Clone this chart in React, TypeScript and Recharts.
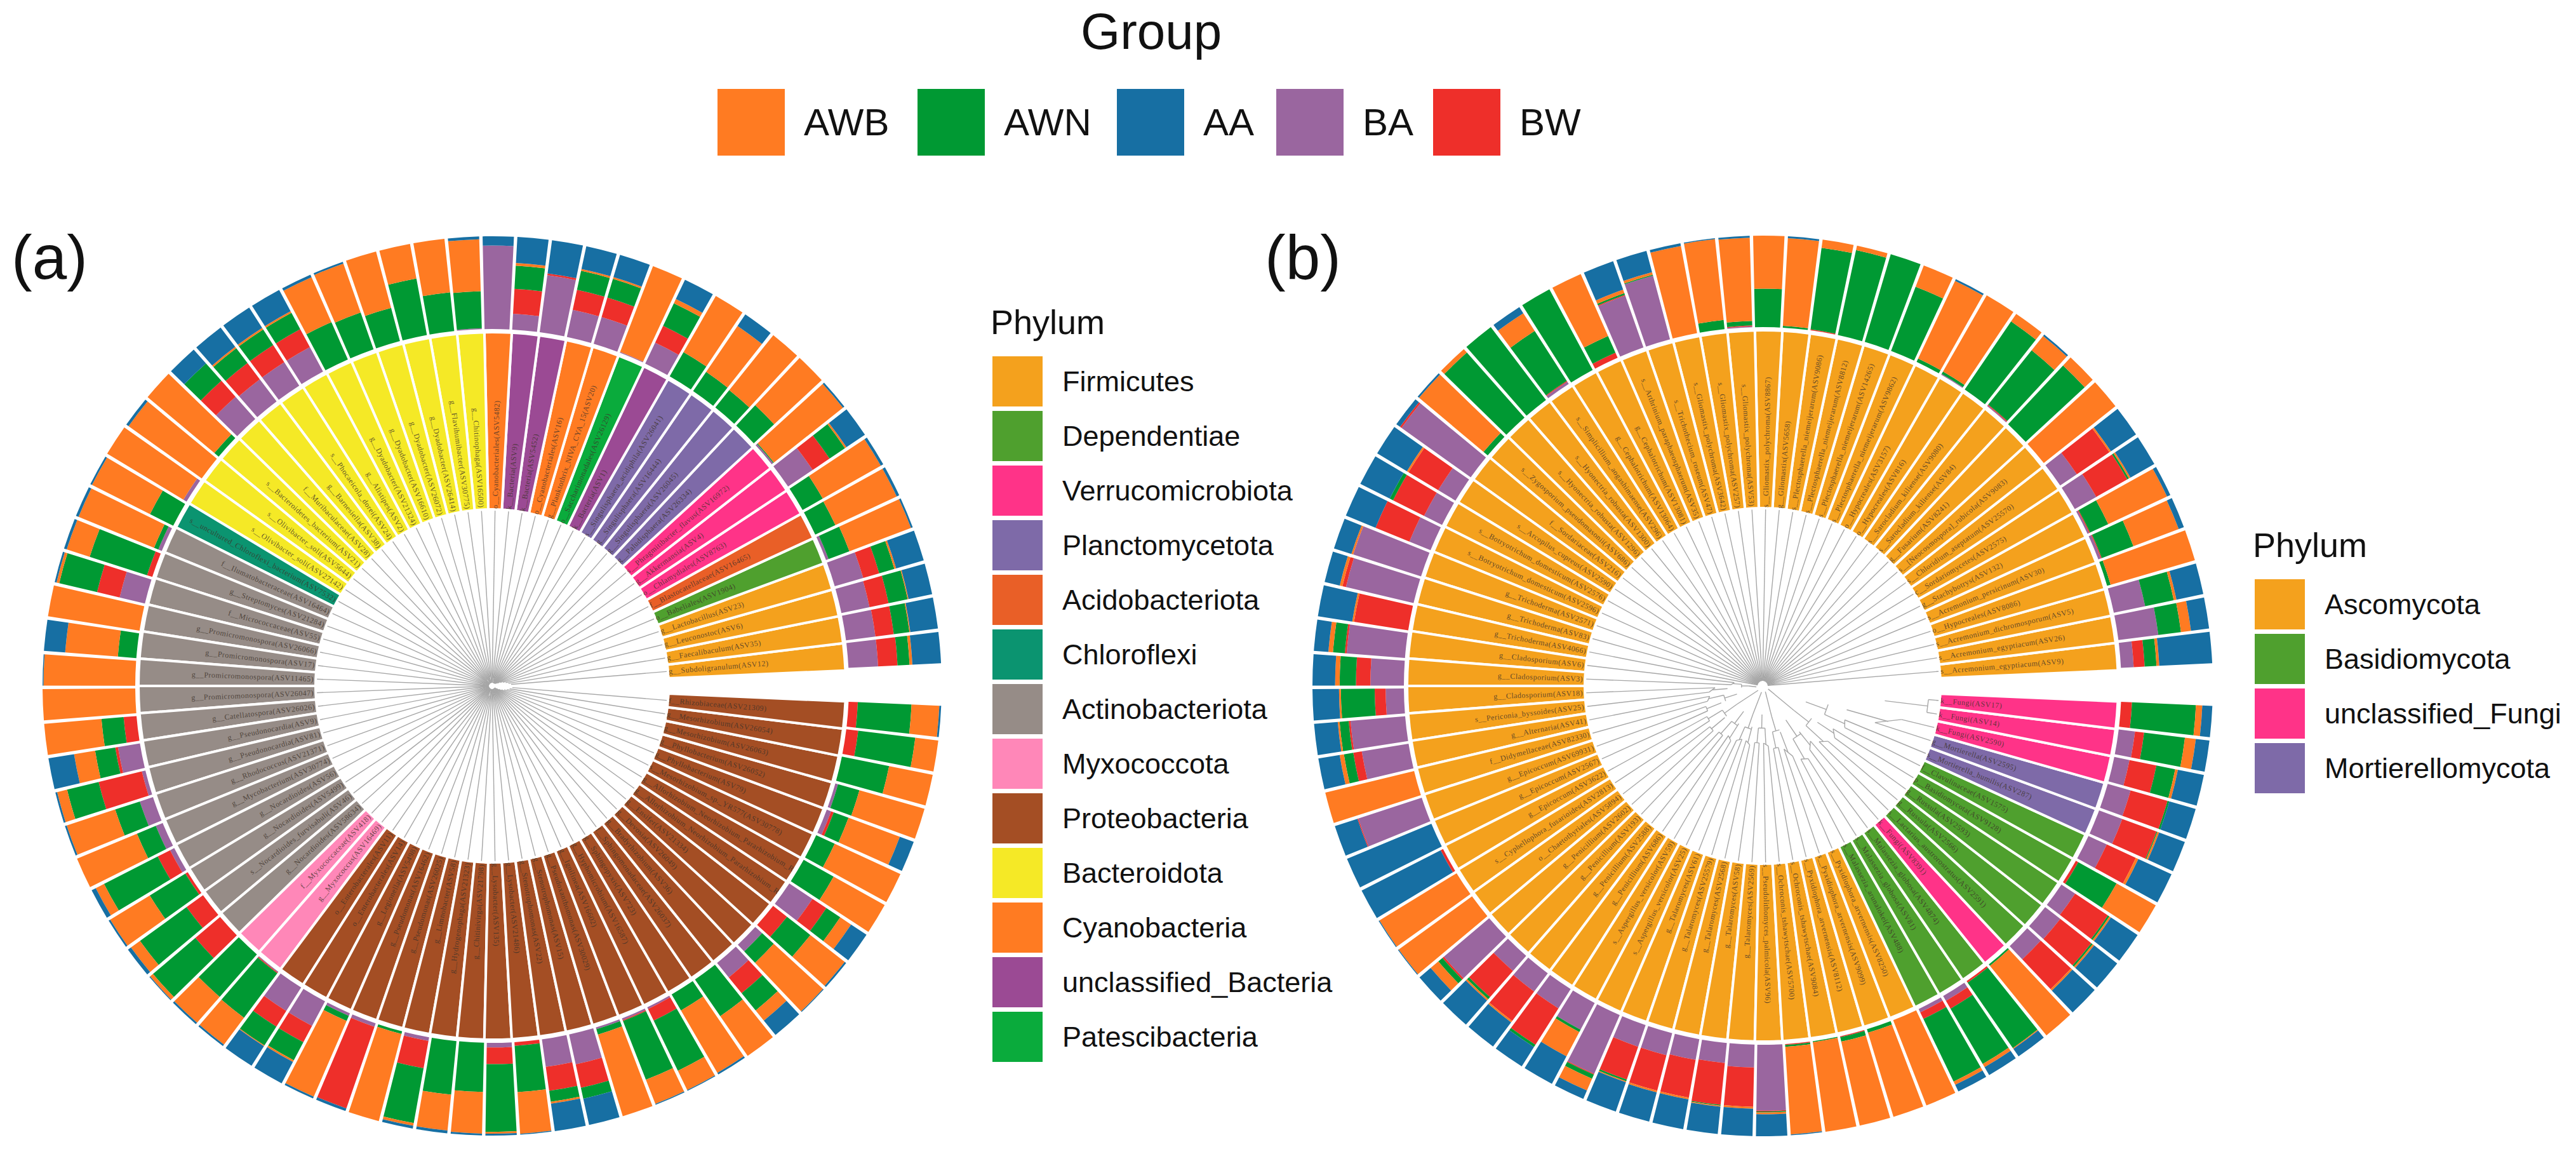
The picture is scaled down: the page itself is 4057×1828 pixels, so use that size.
import React from 'react';
import {
  Pie,
  PieChart,
  PolarAngleAxis,
  PolarRadiusAxis,
  RadialBar,
  RadialBarChart
} from 'recharts';

const groupColors: Record<string, string> = {
  AWB: '#FF7B22',
  AWN: '#009933',
  AA: '#176FA3',
  BA: '#9A669F',
  BW: '#EE2F2A'
};
const groupNames = ['AWB', 'AWN', 'AA', 'BA', 'BW'];
// drawn from the inner edge of the ring to the outer one
const stackOrder = ['BA', 'BW', 'AWN', 'AWB', 'AA'];

const bacteriaPhyla = [
  'Firmicutes',
  'Dependentiae',
  'Verrucomicrobiota',
  'Planctomycetota',
  'Acidobacteriota',
  'Chloroflexi',
  'Actinobacteriota',
  'Myxococcota',
  'Proteobacteria',
  'Bacteroidota',
  'Cyanobacteria',
  'unclassified_Bacteria',
  'Patescibacteria'
];
const fungiPhyla = ['Ascomycota', 'Basidiomycota', 'unclassified_Fungi', 'Mortierellomycota'];

const phylumColors: Record<string, string> = {
  Firmicutes: '#F4A11D',
  Dependentiae: '#4FA02E',
  Verrucomicrobiota: '#FF3388',
  Planctomycetota: '#7E6AA8',
  Acidobacteriota: '#E95F27',
  Chloroflexi: '#0B9470',
  Actinobacteriota: '#968C87',
  Myxococcota: '#FF87B8',
  Proteobacteria: '#A44E24',
  Bacteroidota: '#F5E926',
  Cyanobacteria: '#FF7B22',
  unclassified_Bacteria: '#9B4A94',
  Patescibacteria: '#0AAB3C',
  Ascomycota: '#F4A11D',
  Basidiomycota: '#4FA02E',
  unclassified_Fungi: '#FF3388',
  Mortierellomycota: '#7E6AA8'
};

// leaves run counter-clockwise from the gap at 3 o'clock
const leavesA = [
  'g__Subdoligranulum(ASV12)', 'g__Faecalibaculum(ASV35)', 'g__Leuconostoc(ASV6)', 'g__Lactobacillus(ASV23)',
  'o__Babeliales(ASV1904)', 'f__Blastocatellaceae(ASV16465)', 'o__Chlamydiales(ASV8763)', 'g__Akkermansia(ASV4)',
  's__Phragmitibacter_flavus(ASV16972)', 'g__Paludisphaera(ASV26334)', 'g__Singulisphaera(ASV26045)', 'g__Singulisphaera(ASV16444)',
  's__Singulisphaera_acidiphila(ASV26041)', 'k__Bacteria(ASV1)', 'o__Saccharimonadales(ASV26129)', 'g__Planktothrix_NIVA_CYA_15(ASV20)',
  'o__Cyanobacteriales(ASV16)', 'k__Bacteria(ASV5452)', 'k__Bacteria(ASV9)', 'o__Cyanobacteriales(ASV5482)',
  'g__Chitinophaga(ASV16500)', 'g__Flavihumibacter(ASV30775)', 'g__Dyadobacter(ASV26414)', 'g__Dyadobacter(ASV26072)',
  'g__Dyadobacter(ASV16610)', 'g__Dyadobacter(ASV21324)', 'g__Alistipes(ASV2)', 's__Phocaeicola_dorei(ASV24)',
  'g__Barnesiella(ASV38)', 'f__Muribaculaceae(ASV28)', 's__Bacteroidetes_bacterium(ASV21)', 's__Olivibacter_soli(ASV5644)',
  's__Olivibacter_soli(ASV27142)', 's__uncultured_Chloroflexi_bacterium(ASV7532)', 'f__Ilumatobacteraceae(ASV16464)', 'g__Streptomyces(ASV21284)',
  'f__Micrococcaceae(ASV55)', 'g__Promicromonospora(ASV26066)', 'g__Promicromonospora(ASV17)', 'g__Promicromonospora(ASV11465)',
  'g__Promicromonospora(ASV26047)', 'g__Catellatospora(ASV26026)', 'g__Pseudonocardia(ASV9)', 'g__Pseudonocardia(ASV81)',
  'g__Rhodococcus(ASV21371)', 'g__Mycobacterium(ASV30774)', 'g__Nocardioides(ASV56)', 'g__Nocardioides(ASV5499)',
  's__Nocardioides_furvisabuli(ASV46)', 'g__Nocardioides(ASV58634)', 'f__Myxococcaceae(ASV418)', 'g__Myxococcus(ASV16469)',
  'o__Enterobacterales(ASV11)', 'o__Enterobacterales(ASV14)', 'g__Legionella(ASV5498)', 'g__Pseudomonas(ASV16462)',
  'g__Pseudomonas(ASV26025)', 'g__Limnobacter(ASV58)', 'g__Hydrogenophaga(ASV21323)', 'g__Chitinivirga(ASV21798)',
  'g__Lysobacter(ASV135)', 'g__Lysobacter(ASV21486)', 'g__Stenotrophomonas(ASV22)', 'g__Stenotrophomonas(ASV15)',
  'g__Pseudoxanthomonas(ASV30029)', 'g__Ignilinea(ASV16602)', 'g__Hyphomicrobium(ASV16587)', 'g__Sphingopyxis(ASV723)',
  'f__Sphingomonadaceae(ASV26037)', 'g__Bradyrhizobium(ASV36)', 'g__Devosia(ASV26049)', 'g__Ensifer(ASV21334)',
  'g__Allorhizobium_Neorhizobium_Pararhizobium_R', 'g__Allorhizobium_Neorhizobium_Pararhizobium_R', 's__Mesorhizobium_sp._YR577(ASV30778)', 'g__Phyllobacterium(ASV79)',
  'g__Phyllobacterium(ASV26052)', 'g__Mesorhizobium(ASV26063)', 'g__Mesorhizobium(ASV26054)', 'f__Rhizobiaceae(ASV21309)'
];
const phylumRunsA: [string, number][] = [
  ['Firmicutes', 4], ['Dependentiae', 1], ['Acidobacteriota', 1], ['Verrucomicrobiota', 3], ['Planctomycetota', 4],
  ['unclassified_Bacteria', 1], ['Patescibacteria', 1], ['Cyanobacteria', 2], ['unclassified_Bacteria', 2], ['Cyanobacteria', 1],
  ['Bacteroidota', 13], ['Chloroflexi', 1], ['Actinobacteriota', 16], ['Myxococcota', 2], ['Proteobacteria', 28]
];
const baA = [32,32,31,32,3,0,0,32,2,0, 0,0,0,25,1,30,30,62,17,90, 1,0,0,0,0,0,30,30,30,32, 0,0,4,0,4,0,28,0,0,0, 0,0,24,4,15,8,5,0,0,0, 0,1,30,30,3,4,0,4,0,0, 5,0,30,33,2,2,2,0,0,20, 10,0,30,0,0,5,3,0,0,0];
const bwA = [21,20,21,18,0,0,0,22,0,0, 0,0,0,20,0,22,22,2,27,0, 0,0,0,0,0,0,22,22,22,23, 0,0,0,0,0,6,25,0,0,0, 0,14,3,48,0,0,15,3,22,35, 0,1,20,20,0,93,0,30,0,0, 18,4,26,26,0,1,14,0,0,22, 0,19,18,0,0,3,0,0,13,10];
const awnA = [13,17,21,17,24,24,25,20,1,30, 24,25,30,27,0,21,21,0,25,0, 40,42,62,37,42,44,20,20,20,25, 6,0,0,28,5,65,42,0,20,0, 0,24,22,35,28,22,65,45,62,60, 61,60,24,22,6,0,3,60,58,53, 73,50,12,12,6,68,60,20,48,24, 17,32,18,37,22,17,24,52,62,58];
const awbA = [3,1,1,2,71,73,72,2,95,70, 76,60,70,5,99,2,2,0,3,0, 56,58,38,63,56,53,2,2,2,0, 94,97,96,70,88,26,3,100,57,99, 100,62,23,11,55,70,10,50,12,4, 37,36,1,2,89,0,97,3,39,45, 2,45,2,0,92,28,23,78,52,14, 72,47,14,63,78,59,73,48,25,30];
const aaA = [31,30,26,31,2,3,3,24,2,0, 0,15,0,23,0,25,25,36,28,10, 3,0,0,0,2,3,26,26,26,20, 0,3,0,2,3,3,2,0,23,1, 0,0,28,2,2,0,5,2,4,1, 2,2,25,26,2,3,0,3,3,2, 2,1,30,29,0,1,1,2,0,20, 1,2,20,0,0,16,0,0,0,2];
// where each leaf line leaves the tree, in px from the centre
const treeA = [
  30,26,22,18,14,10,8,6,6,6, 5,5,5,5,5,5,8,12,6,5, 5,5,14,5,5,5,5,5,12,5, 5,5,5,5,5,5,5,5,8,5,
  5,5,5,5,5,5,5,5,5,5, 5,5,5,5,5,5,16,5,5,5, 5,5,5,5,5,5,8,5,5,5, 5,5,5,8,12,16,20,24,28,32
];

const leavesB = [
  's__Acremonium_egyptiacum(ASV9)', 's__Acremonium_egyptiacum(ASV26)', 's__Acremonium_dichromosporum(ASV5)', 'o__Hypocreales(ASV8086)',
  's__Acremonium_persicinum(ASV30)', 'g__Stachybotrys(ASV132)', 'c__Sordariomycetes(ASV2575)', 's__Chloridium_aseptatum(ASV25570)',
  's__[Neocosmospora]_rubicola(ASV9083)', 'g__Fusarium(ASV8241)', 's__Sarocladium_kiliense(ASV84)', 's__Sarocladium_kiliense(ASV9080)',
  'o__Hypocreales(ASV816)', 'o__Hypocreales(ASV3157)', 's__Plectosphaerella_niemeijerarum(ASV9862)', 's__Plectosphaerella_niemeijerarum(ASV14265)',
  's__Plectosphaerella_niemeijerarum(ASV8812)', 's__Plectosphaerella_niemeijerarum(ASV9086)', 'g__Gliomastix(ASV5658)', 's__Gliomastix_polychroma(ASV8867)',
  's__Gliomastix_polychroma(ASV53)', 's__Gliomastix_polychroma(ASV257)', 's__Gliomastix_polychroma(ASV3642)', 's__Trichothecium_roseum(ASV47)',
  's__Arthrinium_paraphaeosphaerum(ASV35)', 'g__Cephalotrichum(ASV13081)', 'g__Cephalotrichum(ASV13064)', 's__Simplicillium_aogashimaense(ASV296)',
  's__Hyonectria_robusta(ASV1300)', 's__Hyonectria_robusta(ASV1296)', 's__Zygosporium_pseudomasonii(ASV686)', 'f__Sordariaceae(ASV216)',
  's__Arcopilus_cupreus(ASV2590)', 's__Botryotrichum_domesticum(ASV2576)', 's__Botryotrichum_domesticum(ASV2596)', 'g__Trichoderma(ASV2571)',
  'g__Trichoderma(ASV83)', 'g__Trichoderma(ASV4066)', 'g__Cladosporium(ASV6)', 'g__Cladosporium(ASV3)',
  'g__Cladosporium(ASV18)', 's__Periconia_byssoides(ASV25)', 'g__Alternaria(ASV41)', 'f__Didymellaceae(ASV82330)',
  'g__Epicoccum(ASV69931)', 'g__Epicoccum(ASV2567)', 'g__Epicoccum(ASV3622)', 's__Cyphellophora_fusarioides(ASV2813)',
  'o__Chaetothyriales(ASV5894)', 'g__Penicillium(ASV2602)', 'g__Penicillium(ASV193)', 'g__Penicillium(ASV2588)',
  'g__Penicillium(ASV686)', 's__Aspergillus_versicolor(ASV59)', 's__Aspergillus_versicolor(ASV25)', 'g__Talaromyces(ASV61)',
  'g__Talaromyces(ASV25579)', 'g__Talaromyces(ASV2568)', 'g__Talaromyces(ASV58)', 'g__Talaromyces(ASV2569)',
  's__Pseudolithomyces_palmicola(ASV96)', 's__Ochroconis_tshawytschae(ASV5700)', 's__Ochroconis_tshawytschae(ASV9084)', 's__Pyxidiophora_arvernensis(ASV8112)',
  's__Pyxidiophora_arvernensis(ASV9099)', 's__Pyxidiophora_arvernensis(ASV8250)', 's__Malassezia_arunalokei(ASV488)', 's__Malassezia_globosa(ASV81)',
  's__Malassezia_globosa(ASV4874)', 'k__Fungi(ASV8391)', 's__Lactarius_austrorostratus(ASV2591)', 'g__Russula(ASV2566)',
  'g__Russula(ASV2593)', 'p__Basidiomycota(ASV9128)', 'f__Clavulinaceae(ASV1575)', 's__Mortierella_humilis(ASV287)',
  'g__Mortierella(ASV2595)', 'k__Fungi(ASV2590)', 'k__Fungi(ASV14)', 'k__Fungi(ASV17)'
];
const phylumRunsB: [string, number][] = [
  ['Ascomycota', 66], ['Basidiomycota', 3], ['unclassified_Fungi', 1], ['Basidiomycota', 5], ['Mortierellomycota', 2], ['unclassified_Fungi', 3]
];
const baB = [14,44,35,0,3,2,27,22,0,0, 1,0,1,0,0,0,0,0,0,0, 1,0,0,72,60,0,0,3,0,0, 0,93,22,22,25,78,76,0,64,37, 20,60,55,0,73,0,0,0,0,65, 22,25,25,33,70,25,25,23,22,25, 72,0,0,0,0,0,4,6,0,0, 20,21,18,0,22,27,26,17,18,0];
const bwB = [12,0,0,0,1,1,39,43,0,0, 1,0,0,0,0,0,0,1,0,0, 1,0,0,0,1,6,0,1,0,0, 0,2,38,38,40,0,4,60,2,16, 12,2,10,0,1,0,3,0,0,2, 38,40,47,0,1,38,40,42,46,43, 1,1,0,1,0,0,8,10,2,0, 45,43,43,3,35,40,42,30,10,12];
const awnB = [13,25,32,4,37,22,2,0,0,88, 76,90,3,4,75,100,95,90,2,42, 5,10,0,1,2,20,100,65,100,95, 6,0,0,4,0,0,0,0,13,18, 37,10,11,0,0,0,0,0,0,6, 3,0,3,3,5,2,0,0,1,0, 1,2,1,5,4,0,76,70,87,2, 0,2,2,48,0,1,2,21,45,70];
const awbB = [3,11,3,96,53,71,2,2,100,12, 20,10,96,94,25,0,5,9,96,58, 91,89,97,3,4,74,0,23,0,5, 92,0,2,0,0,2,3,2,5,5, 2,2,5,100,0,0,0,99,99,11, 2,2,0,30,14,1,2,2,1,2, 2,96,99,94,96,100,4,4,1,98, 2,2,2,49,3,2,0,3,12,7];
const aaB = [58,20,30,0,6,4,30,33,0,0, 2,0,0,2,0,0,0,0,2,0, 2,1,3,24,33,0,0,8,0,0, 2,5,38,36,35,20,17,38,16,25, 29,26,25,0,26,100,97,1,1,16, 35,33,25,34,10,34,33,33,30,30, 24,1,0,0,0,0,8,10,10,0, 33,32,35,0,40,30,30,29,15,11];
const treeB = [
  8,8,8,8,8,8,8,8,8,8, 8,8,8,8,8,8,8,8,8,8, 8,8,8,8,8,8,8,8,8,8, 8,8,8,8,8,8,8,8,45,50,
  75,85,85,90,95,95,100,100,105,105, 100,100,95,100,95,90,90,95,90,90, 90,95,100,100,105,120,130,135,125,115, 125,135,140,130,145,140,186,225,262,262
];

const RAD = Math.PI / 180;
const START_ANGLE = 2.5;
const END_ANGLE = 357.5;
// the centric radial bars come out one band clockwise of the pie slices
const BAND_SHIFT = 355 / 80;
// half of the white slice stroke, eats into the ring on both edges
const STROKE_PAD = 2;
const SANS = '"Liberation Sans", Arial, sans-serif';

const at = (cx: number, cy: number, r: number, deg: number) => ({
  x: cx + r * Math.cos(deg * RAD),
  y: cy - r * Math.sin(deg * RAD)
});

// one straight line per leaf; below branchFrom the leaves pair up and the pairs join inward
const TreeLeaf = (props: any) => {
  const { cx, cy, innerRadius, outerRadius, startAngle, endAngle, base, nextBase, level } = props;
  const mid = (startAngle + endAngle) / 2;
  const step = endAngle - startAngle;
  const from = at(cx, cy, base ?? innerRadius, mid);
  const to = at(cx, cy, outerRadius, mid);
  const segs: { x1: number; y1: number; x2: number; y2: number }[] = [
    { x1: from.x, y1: from.y, x2: to.x, y2: to.y }
  ];
  if (level >= 2 && nextBase) {
    const next = at(cx, cy, nextBase, mid + step);
    segs.push({ x1: from.x, y1: from.y, x2: next.x, y2: next.y });
    const inner1 = base * 0.74;
    const a = at(cx, cy, (base + nextBase) / 2, mid + step / 2);
    const b = at(cx, cy, inner1, mid + step / 2);
    segs.push({ x1: a.x, y1: a.y, x2: b.x, y2: b.y });
    if (level >= 4) {
      const c = at(cx, cy, inner1, mid + step * 2.5);
      const d = at(cx, cy, base * 0.5, mid + step * 1.5);
      const e = at(cx, cy, inner1, mid + step * 1.5);
      segs.push({ x1: b.x, y1: b.y, x2: c.x, y2: c.y });
      segs.push({ x1: e.x, y1: e.y, x2: d.x, y2: d.y });
      if (level >= 8) {
        const root = at(cx, cy, 10, mid + step * 3.5);
        segs.push({ x1: d.x, y1: d.y, x2: root.x, y2: root.y });
      }
    }
  }
  return (
    <g stroke="#a6a6a6" strokeWidth={1.4} fill="none">
      {segs.map((s, i) => (
        <line key={i} {...s} />
      ))}
    </g>
  );
};

const LeafLabel = (props: any) => {
  const { cx, cy, innerRadius, midAngle, name } = props;
  const right = Math.cos(midAngle * RAD) >= 0;
  const p = at(cx, cy, innerRadius + (right ? 1 : 3), midAngle);
  return (
    <text
      x={p.x}
      y={p.y}
      transform={`rotate(${right ? -midAngle : 180 - midAngle} ${p.x} ${p.y})`}
      textAnchor={right ? 'start' : 'end'}
      dominantBaseline="central"
      fontFamily='"Liberation Serif", serif'
      fontSize={12}
      letterSpacing={0.5}
      fill="#3d3229"
      fillOpacity={0.8}
    >
      {name}
    </text>
  );
};

interface RingProps {
  cx: number;
  cy: number;
  inner: number;
  ringOuter: number;
  stackInner: number;
  outer: number;
  leaves: string[];
  runs: [string, number][];
  tree: number[];
  ba: number[];
  bw: number[];
  awn: number[];
  awb: number[];
  aa: number[];
  branchFrom: number;
}

const Ring: React.FC<RingProps> = ({
  cx, cy, inner, ringOuter, stackInner, outer, leaves, runs, tree, ba, bw, awn, awb, aa, branchFrom
}) => {
  const half = outer + 12;
  const size = half * 2;
  const phyla = runs.flatMap(([name, count]) => Array.from({ length: count }, () => name));
  const ringData = leaves.map((name, i) => ({ name, value: 1, fill: phylumColors[phyla[i]] }));
  const treeData = leaves.map((name, i) => {
    const k = i - branchFrom;
    let level = 0;
    if (k >= 0 && k % 2 === 0 && i < leaves.length - 1) level = 2;
    if (level && k % 4 === 0 && i < leaves.length - 3) level = 4;
    if (level === 4 && k % 8 === 0 && i < leaves.length - 4) level = 8;
    return { name, value: 1, base: tree[i], nextBase: tree[i + 1], level };
  });
  const stackData = leaves.map((name, i) => ({
    leaf: i,
    name,
    BA: ba[i],
    BW: bw[i],
    AWN: awn[i],
    AWB: awb[i],
    AA: aa[i]
  }));
  return (
    <div style={{ position: 'absolute', left: cx - half, top: cy - half, width: size, height: size }}>
      <div style={{ position: 'absolute', left: 0, top: 0 }}>
        <PieChart width={size} height={size} margin={{ top: 0, right: 0, bottom: 0, left: 0 }}>
          <Pie
            data={treeData}
            dataKey="value"
            cx={half}
            cy={half}
            innerRadius={10}
            outerRadius={inner - 2}
            startAngle={START_ANGLE}
            endAngle={END_ANGLE}
            shape={TreeLeaf}
            isAnimationActive={false}
          />
          <Pie
            data={ringData}
            dataKey="value"
            nameKey="name"
            cx={half}
            cy={half}
            innerRadius={inner - STROKE_PAD}
            outerRadius={ringOuter + STROKE_PAD}
            startAngle={START_ANGLE}
            endAngle={END_ANGLE}
            stroke="#fff"
            strokeWidth={4}
            label={LeafLabel}
            labelLine={false}
            isAnimationActive={false}
          />
        </PieChart>
      </div>
      <div style={{ position: 'absolute', left: 0, top: 0 }}>
        <RadialBarChart
          width={size}
          height={size}
          data={stackData}
          layout="centric"
          cx={half}
          cy={half}
          innerRadius={stackInner}
          outerRadius={outer}
          startAngle={START_ANGLE + BAND_SHIFT}
          endAngle={END_ANGLE + BAND_SHIFT}
          stackOffset="expand"
          barCategoryGap="9%"
          margin={{ top: 0, right: 0, bottom: 0, left: 0 }}
        >
          <PolarAngleAxis type="category" dataKey="leaf" tick={false} axisLine={false} tickLine={false} />
          <PolarRadiusAxis type="number" domain={[0, 1]} tick={false} axisLine={false} />
          {stackOrder.map(g => (
            <RadialBar key={g} dataKey={g} stackId="groups" fill={groupColors[g]} isAnimationActive={false} />
          ))}
        </RadialBarChart>
      </div>
    </div>
  );
};

const PhylumLegend = ({ names, left, top }: { names: string[]; left: number; top: number }) => (
  <div style={{ position: 'absolute', left, top, fontFamily: SANS, color: '#111' }}>
    <div style={{ position: 'absolute', left: -3, top: -85, fontSize: 54, lineHeight: '62px', whiteSpace: 'nowrap' }}>Phylum</div>
    {names.map((name, i) => (
      <div key={name} style={{ position: 'absolute', left: 0, top: i * 86, display: 'flex', alignItems: 'center' }}>
        <div style={{ width: 79, height: 79, background: phylumColors[name] }} />
        <div style={{ marginLeft: 31, fontSize: 45, whiteSpace: 'nowrap' }}>{name}</div>
      </div>
    ))}
  </div>
);

const groupLegendX = [1130, 1445, 1759, 2010, 2257];

export default function App() {
  return (
    <div style={{ position: 'absolute', left: 0, top: 0, width: 4057, height: 1828, background: '#fff', overflow: 'hidden' }}>
      <div style={{ position: 'absolute', left: 1702, top: 5, fontFamily: SANS, fontSize: 80, lineHeight: '90px', color: '#111' }}>Group</div>
      {groupNames.map((g, i) => (
        <div key={g} style={{ position: 'absolute', left: groupLegendX[i], top: 140, display: 'flex', alignItems: 'center' }}>
          <div style={{ width: 106, height: 105, background: groupColors[g] }} />
          <div style={{ marginLeft: 30, fontFamily: SANS, fontSize: 60, color: '#111' }}>{g}</div>
        </div>
      ))}
      <div style={{ position: 'absolute', left: 18, top: 350, fontFamily: SANS, fontSize: 98, lineHeight: '110px', color: '#111' }}>(a)</div>
      <div style={{ position: 'absolute', left: 1992, top: 350, fontFamily: SANS, fontSize: 98, lineHeight: '110px', color: '#111' }}>(b)</div>
      <Ring
        cx={775}
        cy={1080}
        inner={280}
        ringOuter={555}
        stackInner={562}
        outer={708}
        leaves={leavesA}
        runs={phylumRunsA}
        tree={treeA}
        ba={baA}
        bw={bwA}
        awn={awnA}
        awb={awbA}
        aa={aaA}
        branchFrom={80}
      />
      <Ring
        cx={2776}
        cy={1080}
        inner={282}
        ringOuter={558}
        stackInner={565}
        outer={709}
        leaves={leavesB}
        runs={phylumRunsB}
        tree={treeB}
        ba={baB}
        bw={bwB}
        awn={awnB}
        awb={awbB}
        aa={aaB}
        branchFrom={38}
      />
      <PhylumLegend names={bacteriaPhyla} left={1563} top={561} />
      <PhylumLegend names={fungiPhyla} left={3551} top={912} />
    </div>
  );
}
